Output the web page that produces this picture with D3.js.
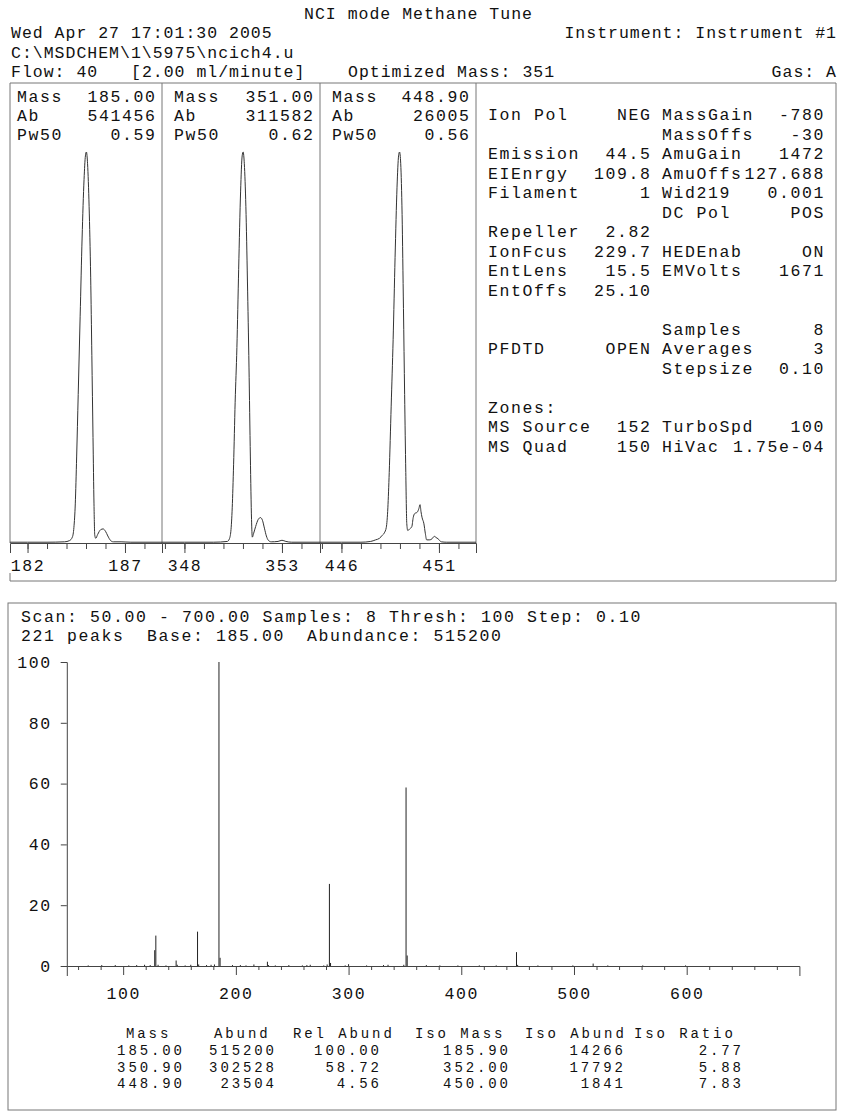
<html>
<head>
<script src='https://d3js.org/d3.v7.min.js'></script>
<style>
  body { margin: 0; background: white; }
  text { font-family: 'Liberation Mono', monospace; font-size: 16.5px; letter-spacing: 1.6px; fill: #111; }
  .head { letter-spacing: 1.0px; }
  .tbl { font-size: 14px; letter-spacing: 2.9px; }
  .frame { fill: none; stroke: #777; stroke-width: 1; }
  .trace { fill: none; stroke: #333; stroke-width: 1; }
  .stick { stroke: #222; stroke-width: 1; }
  .axis path, .axis line { stroke: #444; }
</style>
</head>
<body>
<svg width=842 height=1118></svg>
<script>
  // ---- data ----
  var panelMass = [185.00, 351.00, 448.90];
  var panelAb = [541456, 311582, 26005];
  var panelPw50 = [0.59, 0.62, 0.56];
  var panelDomain = [[181.1, 188.9], [346.85, 354.95], [444.9, 452.9]];
  var panelLabels = [[182, 187], [348, 353], [446, 451]];

  // profile scans [mass, % of apex]
  var profile185 = [[181.1,0.2],[182,0.2],[183,0.2],[183.9,0.3],[184.15,0.6],[184.3,1.5],[184.38,4],[184.45,10],[184.52,22],
    [184.6,38],[184.7,58],[184.8,78],[184.9,93],[184.97,99],[185.02,100],[185.08,97],[185.16,86],[185.24,68],[185.3,48],
    [185.36,27],[185.41,10],[185.45,2],[185.5,1.2],[185.6,2.2],[185.75,3.4],[185.88,3.6],[186,3],[186.12,1.8],[186.25,0.7],
    [186.4,0.3],[186.8,0.3],[187.3,0.2],[188.9,0.2]];
  var profile351 = [[346.85,0.2],[348,0.2],[349.5,0.2],[350.2,0.4],[350.3,1],[350.38,3],[350.45,9],[350.52,20],[350.6,36],
    [350.69,50],[350.78,70],[350.88,90],[350.96,99],[351.01,100],[351.07,97],[351.15,86],[351.23,67],[351.31,45],[351.38,22],
    [351.44,6],[351.48,1.5],[351.55,2.5],[351.65,4.2],[351.78,6],[351.9,6.5],[352,5.8],[352.1,3.8],[352.2,1.8],[352.3,0.7],
    [352.45,0.3],[352.8,0.4],[353,0.7],[353.2,0.4],[353.5,0.2],[354.95,0.2]];
  var profile449 = [[444.9,0.2],[446,0.2],[447,0.2],[447.5,0.4],[447.75,0.8],[447.95,1.2],[448.1,2],[448.2,2.6],[448.3,4],
    [448.38,9],[448.45,18],[448.55,35],[448.65,52],[448.75,73],[448.85,91],[448.93,99],[448.98,100],[449.04,97],[449.11,84],
    [449.18,60],[449.24,38],[449.3,18],[449.35,5],[449.4,3.2],[449.5,3.6],[449.61,4.2],[449.68,6.5],[449.75,7.5],[449.89,7.9],
    [449.97,8.8],[450.03,9.8],[450.08,8],[450.13,6.6],[450.23,4.9],[450.3,2.5],[450.37,0.8],[450.5,0.8],[450.6,0.9],
    [450.77,1.7],[450.85,1.4],[450.95,1.1],[451.12,0.3],[451.4,0.2],[452.9,0.2]];
  var profiles = [profile185, profile351, profile449];

  var tuneRows = [
    ["Ion Pol","NEG","MassGain","-780"],
    ["","","MassOffs","-30"],
    ["Emission","44.5","AmuGain","1472"],
    ["EIEnrgy","109.8","AmuOffs","127.688"],
    ["Filament","1","Wid219","0.001"],
    ["","","DC Pol","POS"],
    ["Repeller","2.82","",""],
    ["IonFcus","229.7","HEDEnab","ON"],
    ["EntLens","15.5","EMVolts","1671"],
    ["EntOffs","25.10","",""],
    ["","","",""],
    ["","","Samples","8"],
    ["PFDTD","OPEN","Averages","3"],
    ["","","Stepsize","0.10"],
    ["","","",""],
    ["Zones:","","",""],
    ["MS Source","152","TurboSpd","100"],
    ["MS Quad","150","HiVac","1.75e-04"]
  ];

  // bar spectrum, mass vs relative abundance
  var specMass = [69, 81, 93, 105, 112, 119, 124, 128, 129, 131, 138, 147, 148, 155, 160, 166, 167, 174, 178, 181, 185, 186,
    197, 204, 209, 216, 228, 229, 235, 247, 259, 263, 266, 278, 281, 283, 284, 297, 300, 316, 331, 335, 349, 351, 352, 369,
    381, 397, 416, 431, 449, 450, 468, 499, 517, 530, 561, 599];
  var specRel = [0.2, 0.3, 0.3, 0.2, 0.3, 0.4, 0.3, 5.2, 10.0, 0.4, 0.2, 1.8, 0.4, 0.2, 0.4, 11.3, 0.5, 0.3, 0.4, 0.5, 100, 2.7,
    0.3, 0.3, 0.2, 0.5, 1.4, 0.3, 0.2, 0.3, 0.2, 0.3, 0.4, 0.2, 0.5, 27.0, 1.0, 0.2, 0.6, 0.2, 0.3, 0.4, 0.4, 58.72, 3.45, 0.3,
    0.2, 0.2, 0.2, 0.2, 4.56, 0.36, 0.2, 0.2, 0.8, 0.2, 0.2, 0.2];
  var yTicks = [0, 20, 40, 60, 80, 100];
  var xMajor = [100, 200, 300, 400, 500, 600];

  var tableHead = ["Mass", "Abund", "Rel Abund", "Iso Mass", "Iso Abund", "Iso Ratio"];
  var tableRows = [
    ["185.00", "515200", "100.00", "185.90", "14266", "2.77"],
    ["350.90", "302528", "58.72", "352.00", "17792", "5.88"],
    ["448.90", "23504", "4.56", "450.00", "1841", "7.83"]
  ];

  var svg = d3.select("svg");

  function txt(x, y, s, anchor, cls) {
    var ls = cls == "tbl" ? 2.9 : (cls == "head" ? 1.0 : 1.6);
    var t = svg.append("text").attr("x", x).attr("y", y).text(s);
    if (anchor == "end") t.attr("text-anchor", "end").attr("dx", ls);
    if (anchor == "middle") t.attr("text-anchor", "middle").attr("dx", ls / 2);
    if (cls) t.attr("class", cls);
    return t;
  }
  function line(x1, y1, x2, y2) {
    svg.append("line").attr("x1", x1).attr("y1", y1).attr("x2", x2).attr("y2", y2).attr("class", "frame");
  }

  // ---- header ----
  txt(418, 19, "NCI mode Methane Tune", "middle", "head");
  txt(11, 38, "Wed Apr 27 17:01:30 2005", null, "head");
  txt(836, 38, "Instrument: Instrument #1", "end", "head");
  txt(11, 57.5, "C:\\MSDCHEM\\1\\5975\\ncich4.u", null, "head");
  txt(11, 77, "Flow: 40", null, "head");
  txt(131, 77, "[2.00 ml/minute]", null, "head");
  txt(348, 77, "Optimized Mass: 351", null, "head");
  txt(836, 77, "Gas: A", "end", "head");

  // ---- top box with three profile panels ----
  var boxTop = 83, base = 543, boxBottom = 581, boxRight = 836;
  var panelX = [10, 162, 320, 476];
  line(10, boxTop, boxRight, boxTop);
  line(boxRight, boxTop, boxRight, boxBottom);
  line(10, boxBottom, boxRight, boxBottom);
  line(10, boxTop, 10, base);
  line(10, 573, 10, boxBottom);
  for (var k = 1; k < 4; k++) line(panelX[k], boxTop, panelX[k], base);

  var yProf = d3.scaleLinear().domain([0, 100]).range([base, 152]);
  panelMass.forEach(function(m, i) {
    var x0 = panelX[i], x1 = panelX[i + 1];
    var xs = d3.scaleLinear().domain(panelDomain[i]).range([x0, x1]);
    var pad = i == 0 ? 7 : 12;
    txt(x0 + pad, 102, "Mass");
    txt(x1 - 7, 102, m.toFixed(2), "end");
    txt(x0 + pad, 121, "Ab");
    txt(x1 - 7, 121, panelAb[i], "end");
    txt(x0 + pad, 140, "Pw50");
    txt(x1 - 7, 140, panelPw50[i].toFixed(2), "end");

    svg.append("path").datum(profiles[i]).attr("class", "trace")
      .attr("d", d3.line().x(function(d){ return xs(d[0]); }).y(function(d){ return yProf(d[1]); }).curve(d3.curveMonotoneX));

    var ints = d3.range(Math.ceil(panelDomain[i][0]), Math.floor(panelDomain[i][1]) + 1);
    svg.append("g").attr("class", "axis").attr("transform", "translate(0," + base + ")")
      .call(d3.axisBottom(xs).tickValues(ints).tickSize(6).tickSizeOuter(10).tickFormat(""));
    svg.append("g").attr("class", "axis").attr("transform", "translate(0," + base + ")")
      .call(d3.axisBottom(xs).tickValues(panelLabels[i]).tickSize(10).tickPadding(6).tickFormat(d3.format("d")))
      .call(function(g){ g.select(".domain").remove(); });
  });

  // ---- tune parameters ----
  tuneRows.forEach(function(r, i) {
    var y = 120 + i * 19.5;
    if (r[0]) txt(488, y, r[0]);
    if (r[1]) txt(650, y, r[1], "end");
    if (r[2]) txt(662, y, r[2]);
    if (r[3]) txt(823.5, y, r[3], "end");
  });

  // ---- bottom box: scan spectrum ----
  svg.append("rect").attr("class", "frame").attr("x", 8).attr("y", 603).attr("width", 828).attr("height", 507);
  txt(21, 622, "Scan: 50.00 - 700.00 Samples: 8 Thresh: 100 Step: 0.10");
  txt(21, 641, "221 peaks");
  txt(147, 641, "Base: 185.00");
  txt(307, 641, "Abundance: 515200");

  var xS = d3.scaleLinear().domain([50, 700]).range([66.8, 799.4]);
  var yS = d3.scaleLinear().domain([0, 100]).range([966, 662]);

  svg.append("g").selectAll("line").data(specMass).enter().append("line")
    .attr("class", "stick")
    .attr("x1", function(d){ return xS(d); }).attr("x2", function(d){ return xS(d); })
    .attr("y1", yS(0)).attr("y2", function(d, i){ return yS(specRel[i]); });

  var minor = d3.range(60, 700, 20).filter(function(v){ return v % 100 != 0; });
  svg.append("g").attr("class", "axis").attr("transform", "translate(0,966)")
    .call(d3.axisBottom(xS).tickValues(minor).tickSize(4).tickSizeOuter(10).tickFormat(""));
  svg.append("g").attr("class", "axis").attr("transform", "translate(0,966)")
    .call(d3.axisBottom(xS).tickValues(xMajor).tickSize(9).tickPadding(12).tickFormat(d3.format("d")))
    .call(function(g){ g.select(".domain").remove(); });
  svg.append("g").attr("class", "axis").attr("transform", "translate(" + xS(50) + ",0)")
    .call(d3.axisLeft(yS).tickValues(yTicks).tickSize(6).tickPadding(9).tickFormat(d3.format("d")));

  // ---- peak table ----
  var headX = [126, 214, 293, 415, 525, 634];
  var valRight = [182, 274, 379, 508, 623, 741];
  tableHead.forEach(function(h, j){ txt(headX[j], 1038, h, null, "tbl"); });
  tableRows.forEach(function(r, i) {
    r.forEach(function(v, j){ txt(valRight[j], 1055 + i * 16.5, v, "end", "tbl"); });
  });
</script>
</body>
</html>
